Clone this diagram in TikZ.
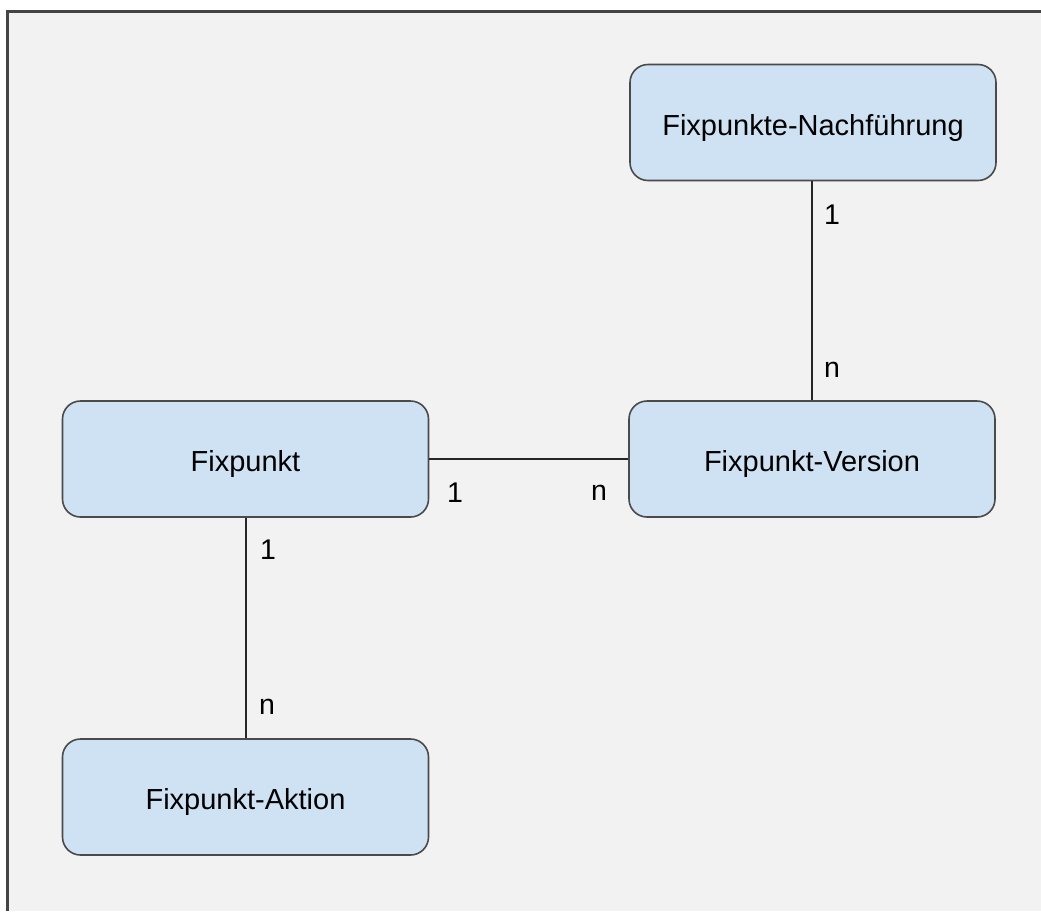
\documentclass[tikz,border=0pt]{standalone}
\usepackage{fontspec}
\setmainfont{Liberation Sans}
\definecolor{boxfill}{HTML}{CFE2F3}
\definecolor{boxdraw}{HTML}{4A4A4A}
\definecolor{bg}{HTML}{F2F2F2}
\definecolor{frame}{HTML}{444444}
\begin{document}
\begin{tikzpicture}[x=1pt,y=-1pt,
  entity/.style={draw=boxdraw, fill=boxfill, line width=1.6pt, rounded corners=18pt,
    minimum width=366pt, minimum height=116pt, inner sep=0pt,
    text height=25pt, text depth=0pt,
    font=\fontsize{29}{34}\selectfont},
  conn/.style={line width=1.6pt, draw=black!85},
  card/.style={font=\fontsize{28.5}{34}\selectfont, inner sep=0pt}]
\useasboundingbox (0,0) rectangle (1041,911);
\fill[white] (0,0) rectangle (1041,911);
\fill[bg] (7,11) rectangle (1041,911);
\draw[frame, line width=3pt] (7,911) -- (7,11) -- (1041,11);
\node[entity] (nf) at (813,122.5) {Fixpunkte-Nachführung};
\node[entity] (fp) at (245.5,459) {Fixpunkt};
\node[entity] (fv) at (812,459) {Fixpunkt-Version};
\node[entity] (fa) at (245.5,797) {Fixpunkt-Aktion};
\draw[conn] (nf.south -| 812,0) -- (fv.north -| 812,0);
\draw[conn] (fp.east) -- (fv.west);
\draw[conn] (fp.south -| 246,0) -- (fa.north -| 246,0);
\node[card] (c1) at (832,215) {1};
\node[card] (c2) at (832,370) {n};
\node[card] (c3) at (455,493) {1};
\node[card] (c4) at (599,493) {n};
\node[card] (c5) at (268,550) {1};
\node[card] (c6) at (267,707) {n};
\end{tikzpicture}
\end{document}
